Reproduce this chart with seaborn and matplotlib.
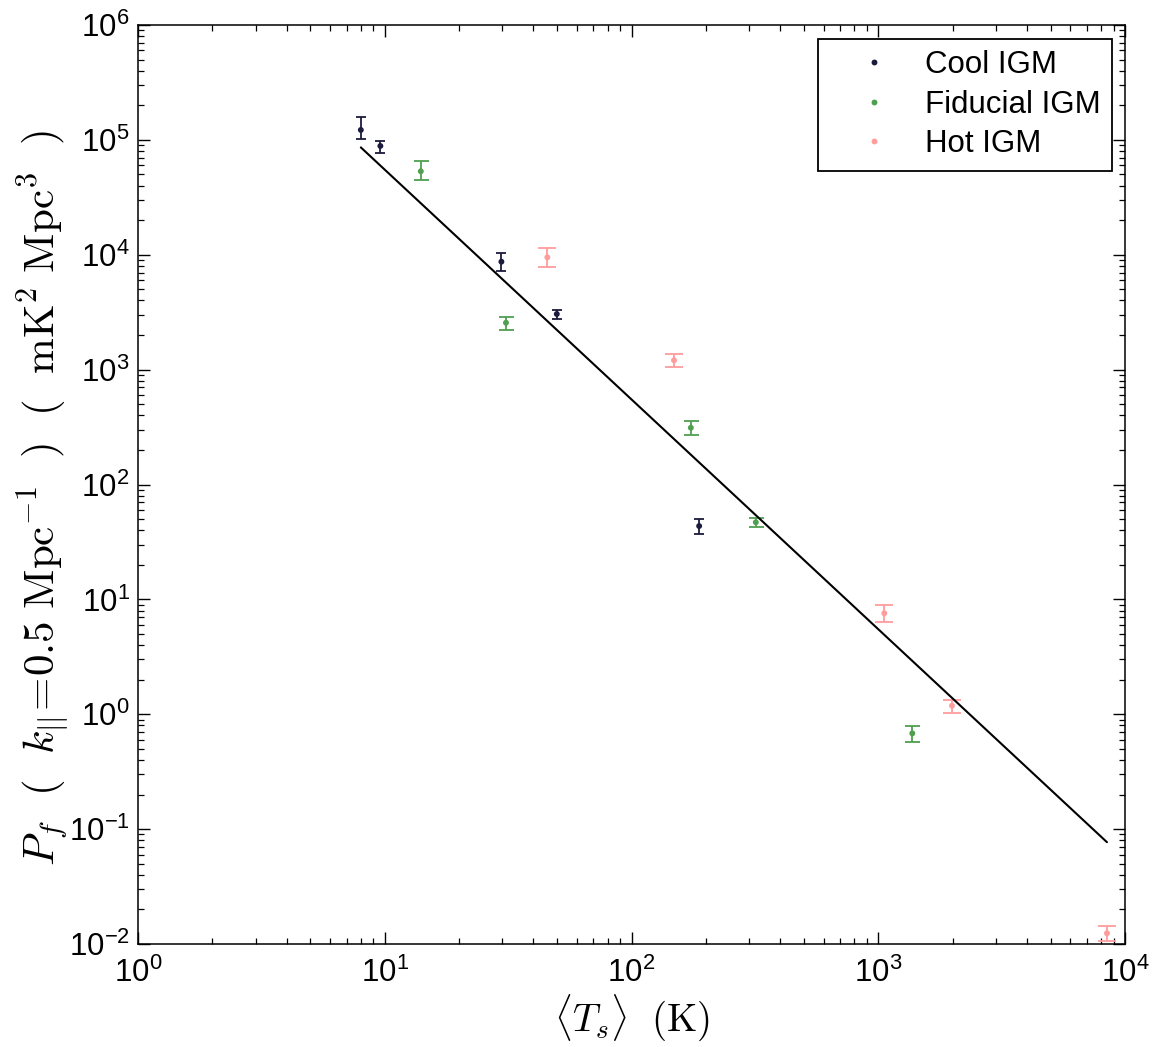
import numpy as np
import pandas as pd
import seaborn as sns
from matplotlib import pyplot as plt

# spin temperature <T_s> (K) and P_f at k_par = 0.5 Mpc^-1
cool_T = [8.0, 9.6, 29.7, 49.8, 188.0]
cool_P = [1.22e5, 8.85e4, 8.7e3, 3.05e3, 43.5]
cool_lo = [1.01e5, 7.73e4, 7.26e3, 2.78e3, 36.8]
cool_hi = [1.57e5, 9.84e4, 1.035e4, 3.30e3, 50.1]

fid_T = [14.0, 31.0, 174.0, 319.0, 1374.0]
fid_P = [5.33e4, 2.56e3, 312.0, 46.9, 0.682]
fid_lo = [4.45e4, 2.23e3, 270.0, 42.4, 0.570]
fid_hi = [6.59e4, 2.87e3, 355.0, 51.4, 0.795]

hot_T = [45.6, 148.7, 1058.0, 1990.0, 8450.0]
hot_P = [9.5e3, 1.205e3, 7.57, 1.187, 0.0124]
hot_lo = [7.87e3, 1.05e3, 6.31, 1.026, 0.01055]
hot_hi = [1.15e4, 1.37e3, 8.99, 1.34, 0.01435]

# power-law fit, end points
fit_T = [8.0, 8450.0]
fit_P = [8.6e4, 0.077]

labels = ['Cool IGM', 'Fiducial IGM', 'Hot IGM']
colors = ['#1b1b3d', '#4f9f4f', '#ff9c9c']
caps = [3.8, 5.4, 6.8]

sns.set_style('ticks')
plt.rcParams['font.family'] = ['Liberation Sans', 'DejaVu Sans']
plt.rcParams['mathtext.fontset'] = 'cm'
plt.rcParams['axes.linewidth'] = 1.1
for k in ['axes.edgecolor', 'xtick.color', 'ytick.color', 'text.color', 'axes.labelcolor']:
    plt.rcParams[k] = 'black'

df = pd.concat([
    pd.DataFrame({'T': cool_T, 'P': cool_P, 'lo': cool_lo, 'hi': cool_hi, 'run': labels[0]}),
    pd.DataFrame({'T': fid_T, 'P': fid_P, 'lo': fid_lo, 'hi': fid_hi, 'run': labels[1]}),
    pd.DataFrame({'T': hot_T, 'P': hot_P, 'lo': hot_lo, 'hi': hot_hi, 'run': labels[2]}),
])

fig = plt.figure(figsize=(11.58, 10.47), dpi=100)
ax = fig.add_axes([138/1158, 1 - 944/1047, 987/1158, 919/1047])
ax.set_xscale('log')
ax.set_yscale('log')

for lab, c, cs in zip(labels, colors, caps):
    d = df[df.run == lab]
    ax.errorbar(d['T'], d['P'], yerr=[d['P'] - d['lo'], d['hi'] - d['P']],
                fmt='none', ecolor=c, elinewidth=1.3, capsize=cs, capthick=1.3)

sns.scatterplot(data=df, x='T', y='P', hue='run', palette=colors,
                s=18, linewidth=0, ax=ax, zorder=3)
sns.lineplot(x=fit_T, y=fit_P, color='black', linewidth=1.5, ax=ax)

ax.set_xlim(1, 1e4)
ax.set_ylim(1e-2, 1e6)
ax.tick_params(which='both', direction='in', top=True, right=True, labelsize=22.5,
               colors='black')
ax.tick_params(which='major', length=8.5, width=1.0)
ax.tick_params(which='minor', length=4.3, width=0.9)
ax.tick_params(axis='x', pad=10)
ax.tick_params(axis='y', pad=6)

ax.set_xlabel(r'$\langle T_s \rangle\ \ (\mathrm{K})$', fontsize=28, labelpad=2)
ax.set_ylabel(r'$P_f\ \ (\ \ k_{||}\!=\!0.5\ \mathrm{Mpc}^{-1}\ \ )\ \ (\ \ \mathrm{mK}^2\ \mathrm{Mpc}^3\ \ )$',
              fontsize=31, labelpad=-1.5)
ax.yaxis.label.set_y(0.485)

sns.move_legend(ax, 'upper right', bbox_to_anchor=(0.987, 0.985), borderaxespad=0,
                title=None, frameon=True, fancybox=False, fontsize=22.5,
                handlelength=2.85, handletextpad=0.19, borderpad=0.37, labelspacing=0.3,
                markerscale=1.0)
leg = ax.get_legend()
leg.get_frame().set_edgecolor('black')
leg.get_frame().set_linewidth(1.3)
leg.get_frame().set_alpha(1)

plt.savefig('out.png', dpi=100)
